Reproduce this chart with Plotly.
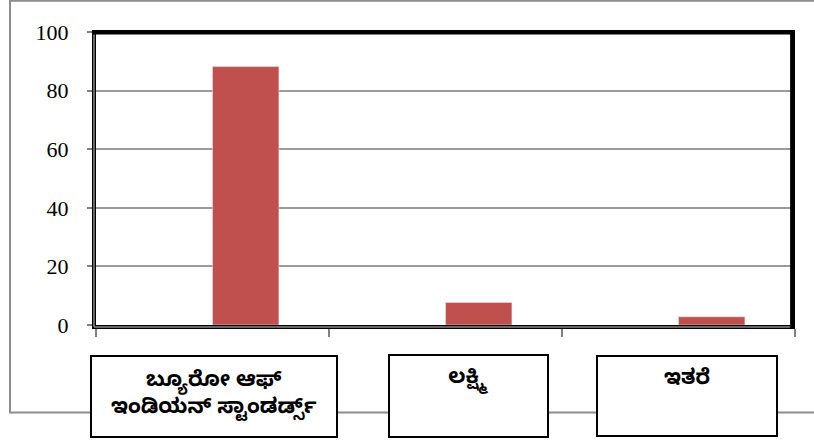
import plotly.graph_objects as go

categories = ["ಬ್ಯೂರೋ ಆಫ್ ಇಂಡಿಯನ್ ಸ್ಟಾಂಡರ್ಡ್ಸ್", "ಲಕ್ಷ್ಮಿ", "ಇತರೆ"]
label_text = ["ಬ್ಯೂರೋ ಆಫ್<br>ಇಂಡಿಯನ್ ಸ್ಟಾಂಡರ್ಡ್ಸ್", "ಲಕ್ಷ್ಮಿ", "ಇತರೆ"]
values = [88.2, 7.7, 2.8]
empty_series = [None, None, None]
y_ticks = [0, 20, 40, 60, 80, 100]

fig = go.Figure()
fig.add_trace(go.Bar(x=categories, y=empty_series, marker_color="#4F81BD", showlegend=False))
fig.add_trace(go.Bar(x=categories, y=values, marker_color="#C0504D", showlegend=False))

fig.update_layout(
    width=814, height=441,
    margin=dict(l=96, r=19, t=30, b=116),
    paper_bgcolor="white", plot_bgcolor="white",
    barmode="group", bargap=0.43, bargroupgap=0,
    showlegend=False,
    font=dict(family="Liberation Serif", color="black"),
)
fig.update_xaxes(
    type="category", range=[-0.5, 2.5], tickson="boundaries", ticks="outside", ticklen=8,
    tickcolor="#808080", tickwidth=1.5, showticklabels=False,
    showline=True, linecolor="black", linewidth=4, showgrid=False,
)
fig.update_yaxes(
    range=[0, 100.7], tickvals=y_ticks, ticks="outside", ticklen=5,
    tickcolor="#808080", tickwidth=1.5, ticklabelstandoff=14,
    tickfont=dict(size=22, family="Liberation Serif", color="black"),
    showline=True, linecolor="black", linewidth=4,
    showgrid=True, gridcolor="#9a9a9a", gridwidth=1.5, zeroline=False,
)

# outer chart border (gray)
fig.add_shape(type="rect", xref="paper", yref="paper",
              x0=-0.123, x1=1.045, y0=-0.297, y1=1.099,
              line=dict(color="#8c8c8c", width=2), layer="below")
# thick top and right plot border (filled bands kept inside the plot area)
fig.add_shape(type="rect", xref="paper", yref="paper", x0=0, x1=1, y0=0.985, y1=1.0,
              line=dict(width=0), fillcolor="black", layer="above")
fig.add_shape(type="rect", xref="paper", yref="paper", x0=0.993, x1=1.0, y0=0, y1=1.0,
              line=dict(width=0), fillcolor="black", layer="above")
# gray core of the double left/bottom axis lines
fig.add_shape(type="line", xref="paper", yref="paper", x0=-0.0029, x1=-0.0029, y0=-0.007, y1=0.985,
              line=dict(color="#8a8a8a", width=1.5))
fig.add_shape(type="line", xref="paper", yref="paper", x0=-0.0029, x1=0.993, y0=-0.007, y1=-0.007,
              line=dict(color="#8a8a8a", width=1.5))

pad = 10
box_w = [244, 157, 178]
box_h = [79, 80, 78]
x_shift = [1, 23, 8]
v_align = ["middle", "top", "top"]
for i, cat in enumerate(categories):
    fig.add_annotation(
        x=cat, xref="x", y=-0.242, yref="paper", yanchor="middle",
        xshift=x_shift[i], text="<b>" + label_text[i] + "</b>", showarrow=False,
        width=box_w[i] - 2 * pad, height=box_h[i] - 2 * pad, valign=v_align[i], align="center",
        bgcolor="white", bordercolor="black", borderwidth=2, borderpad=pad,
        font=dict(size=21, color="black", family="Noto Sans Kannada, Noto Sans, sans-serif"),
    )

fig.write_html("out.html", config={"displayModeBar": False},
               post_script="document.body.style.margin='0';document.body.style.padding='0';")
